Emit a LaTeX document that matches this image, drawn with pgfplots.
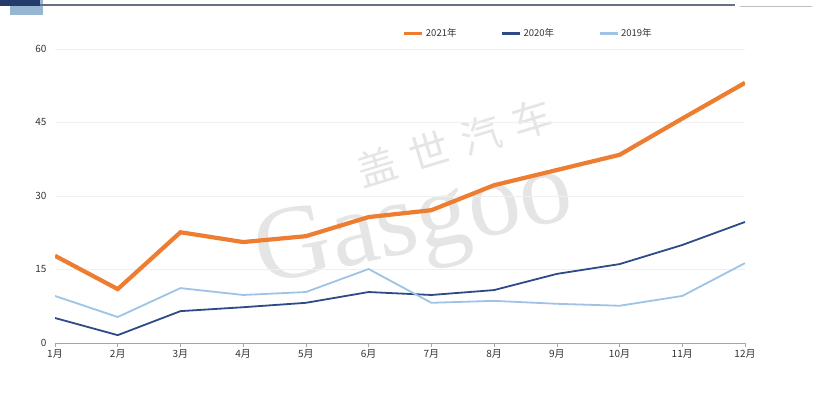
\documentclass[border=0pt]{standalone}
\usepackage{pgfplots}
\pgfplotsset{compat=1.18}
\usepackage{fontspec}
\setmainfont{Noto Sans CJK SC}
\newfontfamily\wmserif{Liberation Serif}
\definecolor{cOr}{HTML}{ED7D31}
\definecolor{cDk}{HTML}{2E4A87}
\definecolor{cLt}{HTML}{9DC3E6}
\definecolor{cTx}{HTML}{333333}
\begin{document}
\begin{tikzpicture}
\path[use as bounding box] (0pt,0pt) rectangle (820pt,393pt);
% top decoration
\fill[cLt!80!gray] (10pt,378pt) rectangle (43pt,393pt);
\fill[cDk!80!black] (0pt,387pt) rectangle (40pt,393pt);
\draw[line width=1.5pt, gray!70!cDk] (40pt,388pt) -- (735pt,388pt);
\draw[line width=0.5pt, gray!50] (740pt,387pt) -- (812pt,387pt);
% watermark
\node[rotate=17, text=gray!20, inner sep=0pt, font=\fontsize{40}{40}\selectfont] at (455pt,250pt) {盖\hspace{14pt}世\hspace{14pt}汽\hspace{14pt}车};
\node[rotate=12, text=gray!20, inner sep=0pt, font=\fontsize{105}{105}\selectfont\wmserif] at (415pt,165pt) {Gasgoo};
\begin{axis}[
  at={(55pt,50pt)}, anchor=south west,
  scale only axis, width=690pt, height=294pt,
  xmin=1, xmax=12, ymin=0, ymax=60,
  xtick={1,...,12},
  xticklabels={1月,2月,3月,4月,5月,6月,7月,8月,9月,10月,11月,12月},
  ytick={0,15,30,45,60},
  /pgf/number format/assume math mode=true,
  ticklabel style={font=\fontsize{10}{11}\selectfont, text=cTx},
  axis line style={draw=none},
  axis x line*=bottom,
  x axis line style={draw=gray!70, line width=0.8pt},
  xtick style={draw=gray!70, line width=0.6pt},
  tick align=outside,
  major tick length=4pt,
  ytick style={draw=none},
  ymajorgrids, grid style={gray!12, line width=0.6pt},
  xticklabel style={yshift=1pt},
  yticklabel style={xshift=-1pt},
  legend columns=3,
  legend style={at={(0.686,1)}, anchor=south, yshift=7pt, draw=none, fill=none,
    font=\fontsize{9.5}{11}\selectfont, text=cTx,
    /tikz/every even column/.append style={column sep=42pt}},
  legend image code/.code={\draw[#1, line width=3pt] (0pt,0pt) -- (18pt,0pt);},
]
\addplot[cOr, line width=4.2pt] coordinates {
(1,17.8)(2,11.0)(3,22.6)(4,20.6)(5,21.8)(6,25.7)(7,27.1)(8,32.2)(9,35.3)(10,38.4)(11,45.8)(12,53.1)};
\addlegendentry{2021年}
\addplot[cDk, line width=1.8pt] coordinates {
(1,5.1)(2,1.6)(3,6.5)(4,7.3)(5,8.2)(6,10.4)(7,9.8)(8,10.8)(9,14.1)(10,16.1)(11,20.0)(12,24.7)};
\addlegendentry{2020年}
\addplot[cLt, line width=1.8pt] coordinates {
(1,9.6)(2,5.3)(3,11.2)(4,9.8)(5,10.4)(6,15.1)(7,8.2)(8,8.6)(9,8.0)(10,7.6)(11,9.6)(12,16.3)};
\addlegendentry{2019年}
\end{axis}
\end{tikzpicture}
\end{document}
